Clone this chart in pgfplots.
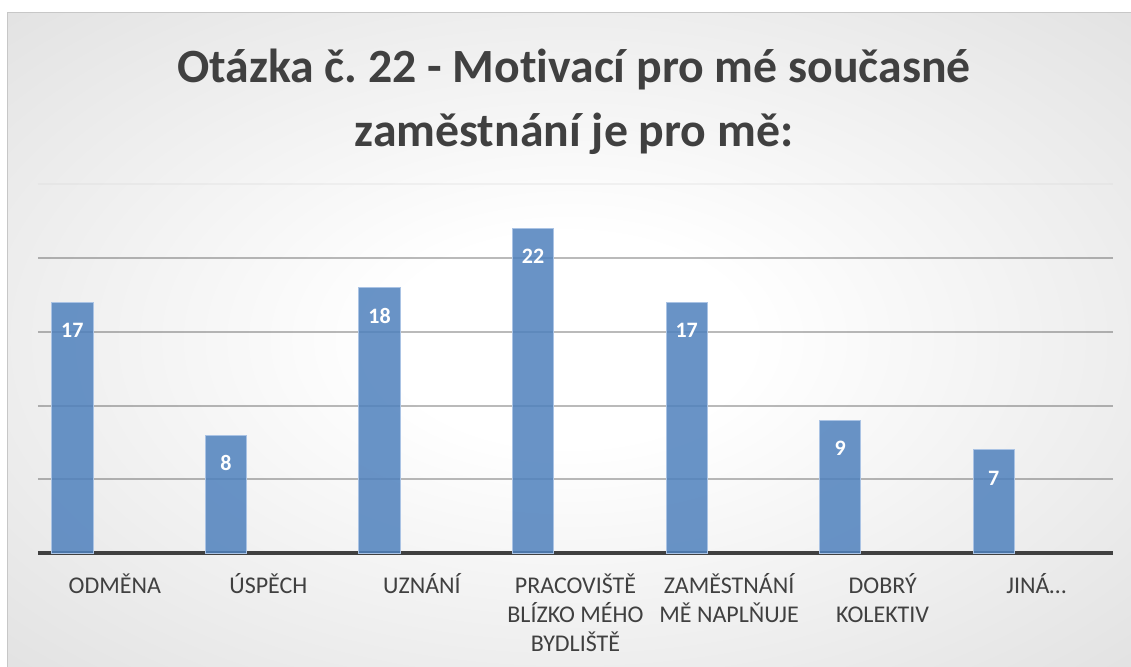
\documentclass[border=0pt]{standalone}
\usepackage{pgfplots}
\pgfplotsset{compat=1.18}
\usepackage{fontspec}
\setmainfont{Carlito}[Ligatures=NoCommon]
\definecolor{barblue}{RGB}{79,129,189}
\definecolor{barborder}{RGB}{170,195,228}
\definecolor{txtgray}{RGB}{64,64,64}
\pgfdeclareradialshading{bgshade}{\pgfpoint{0bp}{0bp}}{color(0bp)=(white); color(8bp)=(white); color(72bp)=(black!26)}
\frenchspacing
\begin{document}
\begin{tikzpicture}[x=1pt,y=1pt]
\path[use as bounding box] (0,0) rectangle (848.25,500.25);
\fill[white] (0,0) rectangle (848.25,500.25);
\shade[shading=bgshade] (5.625,0) rectangle (848.25,490.875);
\draw[black!22, line width=0.75pt] (5.625,0) -- (5.625,490.875) -- (848.25,490.875);
\node[anchor=base, font=\bfseries\fontsize{35.8}{42}\selectfont, text=txtgray] at (430.5,438) {Otázka č. 22 - Motivací pro mé současné};
\node[anchor=base, font=\bfseries\fontsize{35.8}{42}\selectfont, text=txtgray] at (430.5,390) {zaměstnání je pro mě:};
\begin{axis}[
  at={(28.5pt,85.3pt)}, anchor=south west, scale only axis,
  width=806.25pt, height=276.75pt,
  xmin=-0.5, xmax=6.5, ymin=0, ymax=25,
  axis x line*=bottom, axis y line*=left,
  x axis line style={line width=3pt, color=txtgray, -},
  y axis line style={draw=none},
  xtick={0,...,6},
  xticklabels={\strut ODMĚNA, \strut ÚSPĚCH, \strut UZNÁNÍ, {\strut PRACOVIŠTĚ\\BLÍZKO MÉHO\\BYDLIŠTĚ}, {\strut ZAMĚSTNÁNÍ\\MĚ NAPLŇUJE}, {\strut DOBRÝ\\KOLEKTIV}, \strut JINÁ…},
  xticklabel style={font=\fontsize{18}{21.75}\selectfont, text=txtgray, align=center, anchor=north, inner sep=0pt, yshift=-14.5pt},
  major tick length=0pt, xtick style={draw=none}, ytick style={draw=none},
  ytick={5,10,15,20}, yticklabels={},
  ymajorgrids, grid style={line width=1.5pt, color=black, opacity=0.27},
  extra y ticks={25}, extra y tick labels={},
  extra y tick style={grid style={line width=1.5pt, color=black!16}},
  ybar, bar width=31pt, bar shift=-31.8pt,
  nodes near coords,
  /pgf/number format/assume math mode=true,
  every node near coord/.append style={font=\bfseries\fontsize{16.5}{18}\selectfont, text=white, fill opacity=1, text opacity=1, anchor=center, yshift=-21pt},
  clip=false,
]
\addplot[fill=barblue, fill opacity=0.85, draw=barborder, line width=0.75pt] coordinates {(0,17) (1,8) (2,18) (3,22) (4,17) (5,9) (6,7)};
\end{axis}
\end{tikzpicture}
\end{document}
